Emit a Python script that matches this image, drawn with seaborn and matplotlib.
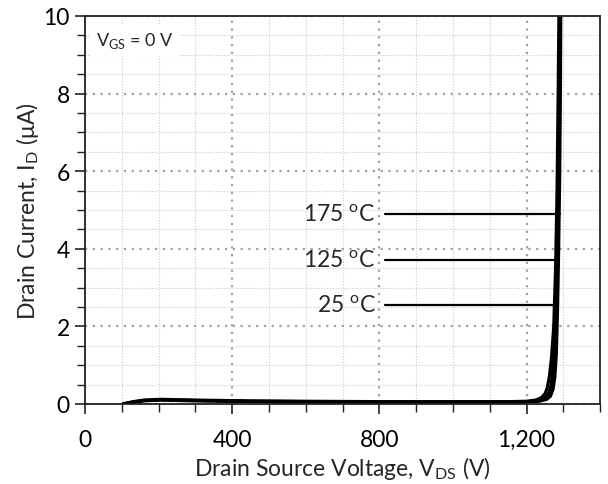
import matplotlib
matplotlib.use("Agg")
import matplotlib.pyplot as plt
import seaborn as sns
import numpy as np
import pandas as pd
from matplotlib.ticker import MultipleLocator, FuncFormatter

sns.set_theme(style="white")
plt.rcParams['font.family'] = ['Lato', 'DejaVu Sans']
plt.rcParams['mathtext.fontset'] = 'custom'
plt.rcParams['mathtext.rm'] = 'Lato'

# ---- data ----
temps = ["25 °C", "125 °C", "175 °C"]
v_25 = [103, 130, 160, 205, 300, 450, 600, 800, 1000, 1150, 1200, 1225, 1240, 1250, 1256, 1262, 1268, 1274, 1279, 1283, 1286, 1288]
i_25 = [0.0, 0.06, 0.1, 0.12, 0.1, 0.08, 0.07, 0.06, 0.06, 0.06, 0.07, 0.1, 0.16, 0.26, 0.4, 0.7, 1.2, 2.0, 3.5, 5.5, 8.0, 10.0]
v_125 = [103, 130, 160, 205, 300, 450, 600, 800, 1000, 1150, 1200, 1230, 1248, 1258, 1265, 1270, 1275, 1280, 1284, 1287, 1289, 1291]
i_125 = [0.0, 0.05, 0.09, 0.11, 0.09, 0.07, 0.06, 0.05, 0.05, 0.05, 0.06, 0.08, 0.14, 0.23, 0.4, 0.7, 1.3, 2.3, 3.8, 5.8, 8.0, 10.0]
v_175 = [103, 130, 160, 205, 300, 450, 600, 800, 1000, 1150, 1200, 1235, 1255, 1265, 1272, 1277, 1281, 1284, 1287, 1290, 1292, 1293]
i_175 = [0.0, 0.04, 0.08, 0.1, 0.08, 0.06, 0.05, 0.04, 0.04, 0.04, 0.05, 0.07, 0.12, 0.2, 0.38, 0.7, 1.3, 2.3, 3.8, 5.8, 8.0, 10.0]

label_y = [2.55, 3.7, 4.9]
label_x_text = 790
label_x_start = 815
label_x_end = [1283, 1286, 1290]

df = pd.concat([
    pd.DataFrame({"V": v_25, "I": i_25, "T": temps[0]}),
    pd.DataFrame({"V": v_125, "I": i_125, "T": temps[1]}),
    pd.DataFrame({"V": v_175, "I": i_175, "T": temps[2]}),
])

FS = 16.5

fig = plt.figure(figsize=(6.08, 4.85), dpi=100)
ax = fig.add_axes([0.14, 0.165, 0.847, 0.80])

sns.lineplot(data=df, x="V", y="I", units="T", estimator=None, sort=False,
             color="black", lw=2.3, ax=ax, legend=False)

ax.set_xlim(0, 1400)
ax.set_ylim(0, 10)
ax.xaxis.set_major_locator(MultipleLocator(400))
ax.xaxis.set_minor_locator(MultipleLocator(100))
ax.yaxis.set_major_locator(MultipleLocator(2))
ax.yaxis.set_minor_locator(MultipleLocator(0.5))
ax.xaxis.set_major_formatter(FuncFormatter(lambda v, p: f"{int(v):,}"))
ax.yaxis.set_major_formatter(FuncFormatter(lambda v, p: f"{int(v)}"))

ax.grid(which="major", color="#a0a0a0", ls=(0, (1, 2.5)), lw=1.6)
ax.grid(which="minor", color="#cccccc", ls=(0, (1, 1.5)), lw=0.8)
ax.set_axisbelow(True)

for s in ax.spines.values():
    s.set_color("#222222")
    s.set_linewidth(1.3)
ax.tick_params(which="both", direction="out", colors="#222222", labelcolor="black",
               labelsize=FS, bottom=True, left=True)
ax.tick_params(which="major", length=7, width=1.2, pad=4)
ax.tick_params(which="minor", length=6, width=1.0)
ax.tick_params(axis="x", which="major", pad=11)

ax.set_xlabel(r"Drain Source Voltage, V$_\mathregular{DS}$ (V)", fontsize=FS, labelpad=3)
ax.set_ylabel(r"Drain Current, I$_\mathregular{D}$ ($\mathregular{\mu}$A)", fontsize=FS, labelpad=2)

ax.text(30, 9.38, r"V$_\mathregular{GS}$ = 0 V", fontsize=13, va="center", ha="left",
        bbox=dict(facecolor="white", edgecolor="none", pad=4))

for t, y, xe in zip(temps, label_y, label_x_end):
    num, unit = t.split(" ")
    ax.text(label_x_text, y, num + r" $^\mathregular{o}$C", fontsize=FS, ha="right", va="center")
    ax.plot([label_x_start, xe], [y, y], color="black", lw=1.6)

fig.savefig("out.png", dpi=100)
